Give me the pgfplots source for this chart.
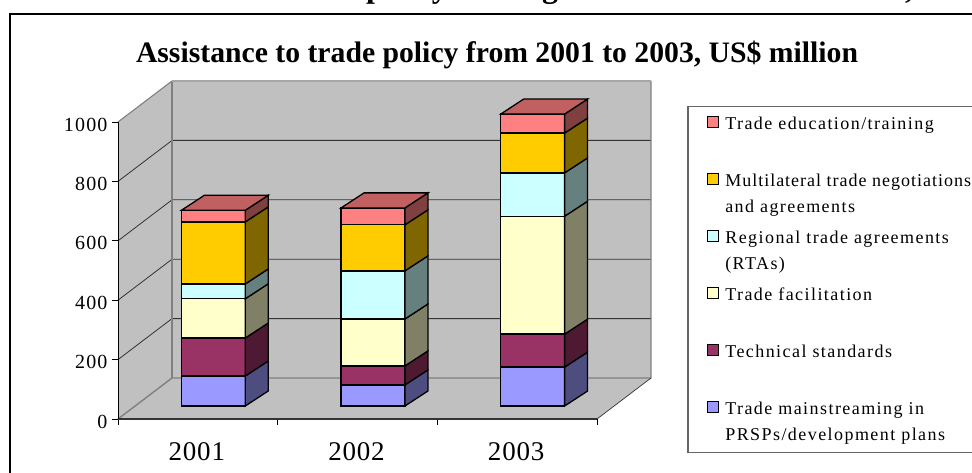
\documentclass[border=0pt]{standalone}
\usepackage{pgfplots}
\pgfplotsset{compat=1.18}
\usepackage{fontspec}
\setmainfont{Liberation Serif}
\newfontfamily\xticksfont[LetterSpace=3]{Liberation Serif}
\newfontfamily\zticksfont[LetterSpace=6]{Liberation Serif}
\newfontfamily\legendfont[LetterSpace=8]{Liberation Serif}

% Fill colours of the six aid categories, with darkened shades for the side faces
\definecolor{mainfront}{HTML}{9999FF}\definecolor{mainside}{HTML}{4D4D80}
\definecolor{techfront}{HTML}{993366}\definecolor{techside}{HTML}{4D1933}
\definecolor{facifront}{HTML}{FFFFCC}\definecolor{faciside}{HTML}{808066}
\definecolor{rtafront}{HTML}{CCFFFF}\definecolor{rtaside}{HTML}{668080}
\definecolor{multfront}{HTML}{FFCC00}\definecolor{multside}{HTML}{806600}
\definecolor{edufront}{HTML}{FF8080}\definecolor{eduside}{HTML}{804040}
\definecolor{edutop}{HTML}{C06060}
\definecolor{wallgray}{HTML}{C0C0C0}
\definecolor{edgegray}{HTML}{808080}

% Bars occupy 0.4 of a category, and sit in the middle of the floor's depth
\newcommand\barwidth{0.4}
\newcommand\barfront{0.317}
\newcommand\barback{0.683}
\newcommand\barskew{0.02}

% \startbar{category index}: the next segment starts on the floor
\newcommand\startbar[1]{%
  \pgfmathsetmacro\xa{#1+0.29}%
  \pgfmathsetmacro\xb{\xa+\barwidth}%
  \pgfmathsetmacro\xc{\xa+\barskew}%
  \pgfmathsetmacro\xd{\xb+\barskew}%
  \def\segbase{0}}

% \segment{value}{front colour}{side colour}: one slab, stacked on the one below
\newcommand\segment[3]{%
  \pgfmathsetmacro\segtop{\segbase+#1}%
  \edef\drawsegment{%
    \noexpand\addplot3[forget plot,draw=black,line width=1.3pt,fill=#2,line join=miter]
      coordinates {(\xa,\barfront,\segbase) (\xb,\barfront,\segbase)
                   (\xb,\barfront,\segtop) (\xa,\barfront,\segtop)} -- cycle;
    \noexpand\addplot3[forget plot,draw=black,line width=1.3pt,fill=#3,line join=miter]
      coordinates {(\xb,\barfront,\segbase) (\xd,\barback,\segbase)
                   (\xd,\barback,\segtop) (\xb,\barfront,\segtop)} -- cycle;}%
  \drawsegment
  \let\segbase\segtop}

% \closebar: the lid on top of the last segment
\newcommand\closebar{%
  \edef\drawlid{%
    \noexpand\addplot3[forget plot,draw=black,line width=1.3pt,fill=edutop,line join=miter]
      coordinates {(\xa,\barfront,\segbase) (\xb,\barfront,\segbase)
                   (\xd,\barback,\segbase) (\xc,\barback,\segbase)} -- cycle;}%
  \drawlid}

% Legend texts, with the key beside the first line
\newcommand\legrow[1]{\parbox[t]{300pt}{\raggedright\legendfont\fontsize{18}{26}\selectfont #1}}

\pgfplotsset{
  every axis title shift=0pt,
  cuboid key/.style={
    legend image code/.code={
      \path[draw=none,fill=none] (-18.7pt,-14.4pt) rectangle (18.6pt,13pt);
      \draw[#1,line width=1.3pt,draw=black] (0.6pt,9.4pt) rectangle (12pt,20.8pt);}}}

\begin{document}
\begin{tikzpicture}[x=1pt,y=1pt]
\useasboundingbox (0,0) rectangle (972,-473);
\clip (0,0) rectangle (972,-473);
\fill[white] (0,0) rectangle (972,-473);

% Tails of the heading that runs above the chart frame
\begin{scope}[every node/.style={inner sep=0pt,anchor=base west,font=\bfseries\fontsize{32}{36}\selectfont}]
  \node at (366,2.9) {policy};
  \node at (542,2.9) {g};
  \node at (905,1.5) {,};
\end{scope}

% Chart frame, open towards the right and the bottom
\draw[black,line width=2.6pt] (10,-473) -- (10,-14) -- (972,-14);

\begin{axis}[
  at={(118pt,-419pt)}, anchor=origin,
  x={(159.67pt,0pt)}, y={(54pt,41pt)}, z={(0pt,0.297pt)},
  xmin=0, xmax=3, ymin=0, ymax=1, zmin=0, zmax=1000,
  clip=false, axis on top,
  axis lines=left,
  axis line style={-},
  x axis line style={draw=black!80,line width=1.6pt},
  y axis line style={draw=none},
  z axis line style={draw=black,line width=0.9pt},
  ytick=\empty,
  xtick={0.5,1.5,2.5}, xticklabels={2001,2002,2003},
  ztick={0,200,400,600,800,1000},
  tick style={draw=none},
  major tick length=0pt,
  /pgf/number format/assume math mode=true,
  /pgf/number format/set thousands separator={},
  x tick label style={font=\xticksfont\fontsize{27}{30}\selectfont,anchor=base,yshift=-41pt,xshift=-1pt},
  z tick label style={font=\zticksfont\fontsize{20}{22}\selectfont,anchor=east,xshift=-7pt,yshift=-2.5pt},
  title={Assistance to trade policy from 2001 to 2003, US\$ million},
  title style={at={(axis cs:2.374,0,1198.7)},anchor=base,font=\bfseries\fontsize{29.7}{32}\selectfont,inner sep=0pt},
  legend style={
    at={(axis cs:3.57,0,1051.6)},anchor=north west,
    draw=black!60,line width=1.1pt,fill=white,
    inner xsep=0pt,inner ysep=2pt,outer sep=0pt,
    legend cell align=left,
    nodes={inner sep=0pt,outer sep=0pt,text height=21.3pt,text depth=35.7pt},
    row sep=0pt},
]
% Side wall, back wall and floor
\addplot3[forget plot,draw=none,fill=wallgray] coordinates {(0,0,0) (0,1,0) (0,1,1000) (0,0,1000)} -- cycle;
\addplot3[forget plot,draw=none,fill=wallgray] coordinates {(0,1,0) (3,1,0) (3,1,1000) (0,1,1000)} -- cycle;
\addplot3[forget plot,draw=none,fill=wallgray] coordinates {(0,0,0) (3,0,0) (3,1,0) (0,1,0)} -- cycle;

% Gridlines running along the side wall and the back wall
\pgfplotsinvokeforeach{200,400,600,800}{
  \addplot3[forget plot,black!80,line width=0.8pt] coordinates {(0,0,#1) (0,1,#1) (3,1,#1)};
}
% Edges of the walls and the floor
\addplot3[forget plot,edgegray,line width=1.4pt] coordinates {(0,0,0) (0,1,0) (3,1,0) (3,1,1000)};
\addplot3[forget plot,edgegray,line width=1.4pt] coordinates {(0,1,0) (0,1,1000)};
\addplot3[forget plot,edgegray,line width=1.1pt] coordinates {(0,0,1000) (0,1,1000)};
\addplot3[forget plot,black!35,line width=1.4pt] coordinates {(0,1,1000) (3,1,1000)};
\addplot3[forget plot,black!80,line width=0.7pt] coordinates {(3,0,0) (3,1,0)};

% Tick marks, square to the axes rather than along the depth direction
\pgfplotsinvokeforeach{0,200,400,600,800,1000}{
  \addplot3[forget plot,black,line width=0.9pt] coordinates {(-0.0376,0,#1) (0,0,#1)};
}
\pgfplotsinvokeforeach{0,1,2,3}{
  \addplot3[forget plot,black,line width=0.9pt] coordinates {(#1,0,0) (#1,0,-20)};
}

% Stacks, from the floor upwards
\startbar{0}
\segment{101}{mainfront}{mainside}
\segment{128}{techfront}{techside}
\segment{132}{facifront}{faciside}
\segment{50}{rtafront}{rtaside}
\segment{209}{multfront}{multside}
\segment{39}{edufront}{eduside}
\closebar

\startbar{1}
\segment{71}{mainfront}{mainside}
\segment{64}{techfront}{techside}
\segment{158}{facifront}{faciside}
\segment{162}{rtafront}{rtaside}
\segment{155}{multfront}{multside}
\segment{57}{edufront}{eduside}
\closebar

\startbar{2}
\segment{131}{mainfront}{mainside}
\segment{111}{techfront}{techside}
\segment{397}{facifront}{faciside}
\segment{146}{rtafront}{rtaside}
\segment{134}{multfront}{multside}
\segment{64}{edufront}{eduside}
\closebar

\addlegendimage{cuboid key={fill=edufront}}
\addlegendentry{\legrow{Trade education/training}}
\addlegendimage{cuboid key={fill=multfront}}
\addlegendentry{\legrow{\addfontfeature{LetterSpace=5.5}Multilateral trade negotiations\\\addfontfeature{LetterSpace=8}and agreements}}
\addlegendimage{cuboid key={fill=rtafront}}
\addlegendentry{\legrow{Regional trade agreements\\(RTAs)}}
\addlegendimage{cuboid key={fill=facifront}}
\addlegendentry{\legrow{Trade facilitation}}
\addlegendimage{cuboid key={fill=techfront}}
\addlegendentry{\legrow{Technical standards}}
\addlegendimage{cuboid key={fill=mainfront}}
\addlegendentry{\legrow{Trade mainstreaming in\\PRSPs/development plans}}
\end{axis}
\end{tikzpicture}
\end{document}
